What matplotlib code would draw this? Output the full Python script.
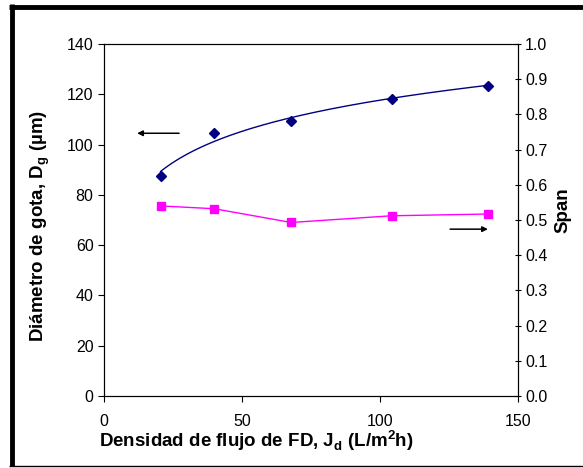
import numpy as np
import matplotlib
matplotlib.use("Agg")
import matplotlib.pyplot as plt
from matplotlib.lines import Line2D

plt.rcParams['font.family'] = ['Liberation Sans', 'DejaVu Sans']
plt.rcParams['mathtext.fontset'] = 'custom'
plt.rcParams['mathtext.rm'] = 'Liberation Sans'
plt.rcParams['mathtext.bf'] = 'Liberation Sans:bold'

# data
flux = [20.5, 40.0, 67.8, 104.2, 139.2]          # J_d (L/m2h)
diameter = [87.6, 104.7, 109.5, 118.1, 123.4]    # D_g (um)
span = [0.540, 0.532, 0.493, 0.512, 0.517]

fig = plt.figure(figsize=(5.83, 4.68), dpi=100)
ax = fig.add_axes([0.1784, 0.1538, 0.7101, 0.7522])
ax2 = ax.twinx()

# log trendline fitted to the diameter points (like the excel one)
b, a = np.polyfit(np.log(flux), diameter, 1)
xs = np.linspace(flux[0], flux[-1], 200)
ax.plot(xs, a + b * np.log(xs), color="#000080", lw=1.0)
ax.plot(flux, diameter, ls="none", marker="D", ms=5.5, color="#000080")

ax2.plot(flux, span, color="#FF00FF", lw=1.0, marker="s", ms=5.5)

ax.set_xlim(0, 150)
ax.set_ylim(0, 140)
ax2.set_ylim(0, 1.0)
ax.set_xticks([0, 50, 100, 150])
ax.set_yticks(np.arange(0, 141, 20))
ax2.set_yticks(np.arange(0, 1.01, 0.1))
ax2.set_yticklabels([f"{v:.1f}" for v in np.arange(0, 1.01, 0.1)])

ax.tick_params(axis="both", labelsize=11.5, length=4, width=0.8, direction="out")
ax.tick_params(axis="x", pad=9)
ax2.tick_params(axis="y", labelsize=11.5, length=4, width=0.8, direction="inout", pad=3)
for a_ in (ax, ax2):
    for s in a_.spines.values():
        s.set_linewidth(0.8)

# arrows showing which axis each series belongs to
ax.annotate("", xy=(11.0, 104.5), xytext=(28.2, 104.5),
            arrowprops=dict(arrowstyle="-|>", color="black", lw=1.1, mutation_scale=8))
ax2.annotate("", xy=(140.1, 0.474), xytext=(124.4, 0.474),
             arrowprops=dict(arrowstyle="-|>", color="black", lw=1.1, mutation_scale=8))

fig.text(0.439, 0.0577, r"Densidad de flujo de FD, J$_\mathbf{d}$ (L/m$^\mathbf{2}$h)",
         ha="center", va="center", fontsize=13.5, fontweight="bold")
fig.text(0.0686, 0.517, r"Diámetro de gota, D$_\mathbf{g}$ (µm)", rotation=90,
         ha="center", va="center", fontsize=13.5, fontweight="bold")
fig.text(0.966, 0.551, "Span", rotation=90, ha="center", va="center",
         fontsize=13.5, fontweight="bold")

# frame around the picture (thick top/left, thin bottom)
fig.add_artist(Line2D([9/583, 1], [1 - 6.5/468, 1 - 6.5/468], color="black", lw=3.5,
                      transform=fig.transFigure, solid_capstyle="butt"))
fig.add_artist(Line2D([11.5/583, 11.5/583], [1 - 4/468, 1 - 466/468], color="black", lw=3.5,
                      transform=fig.transFigure, solid_capstyle="butt"))
fig.add_artist(Line2D([9/583, 1], [1 - 465.5/468, 1 - 465.5/468], color="black", lw=1.0,
                      transform=fig.transFigure, solid_capstyle="butt"))

fig.savefig("out.png", dpi=100)
